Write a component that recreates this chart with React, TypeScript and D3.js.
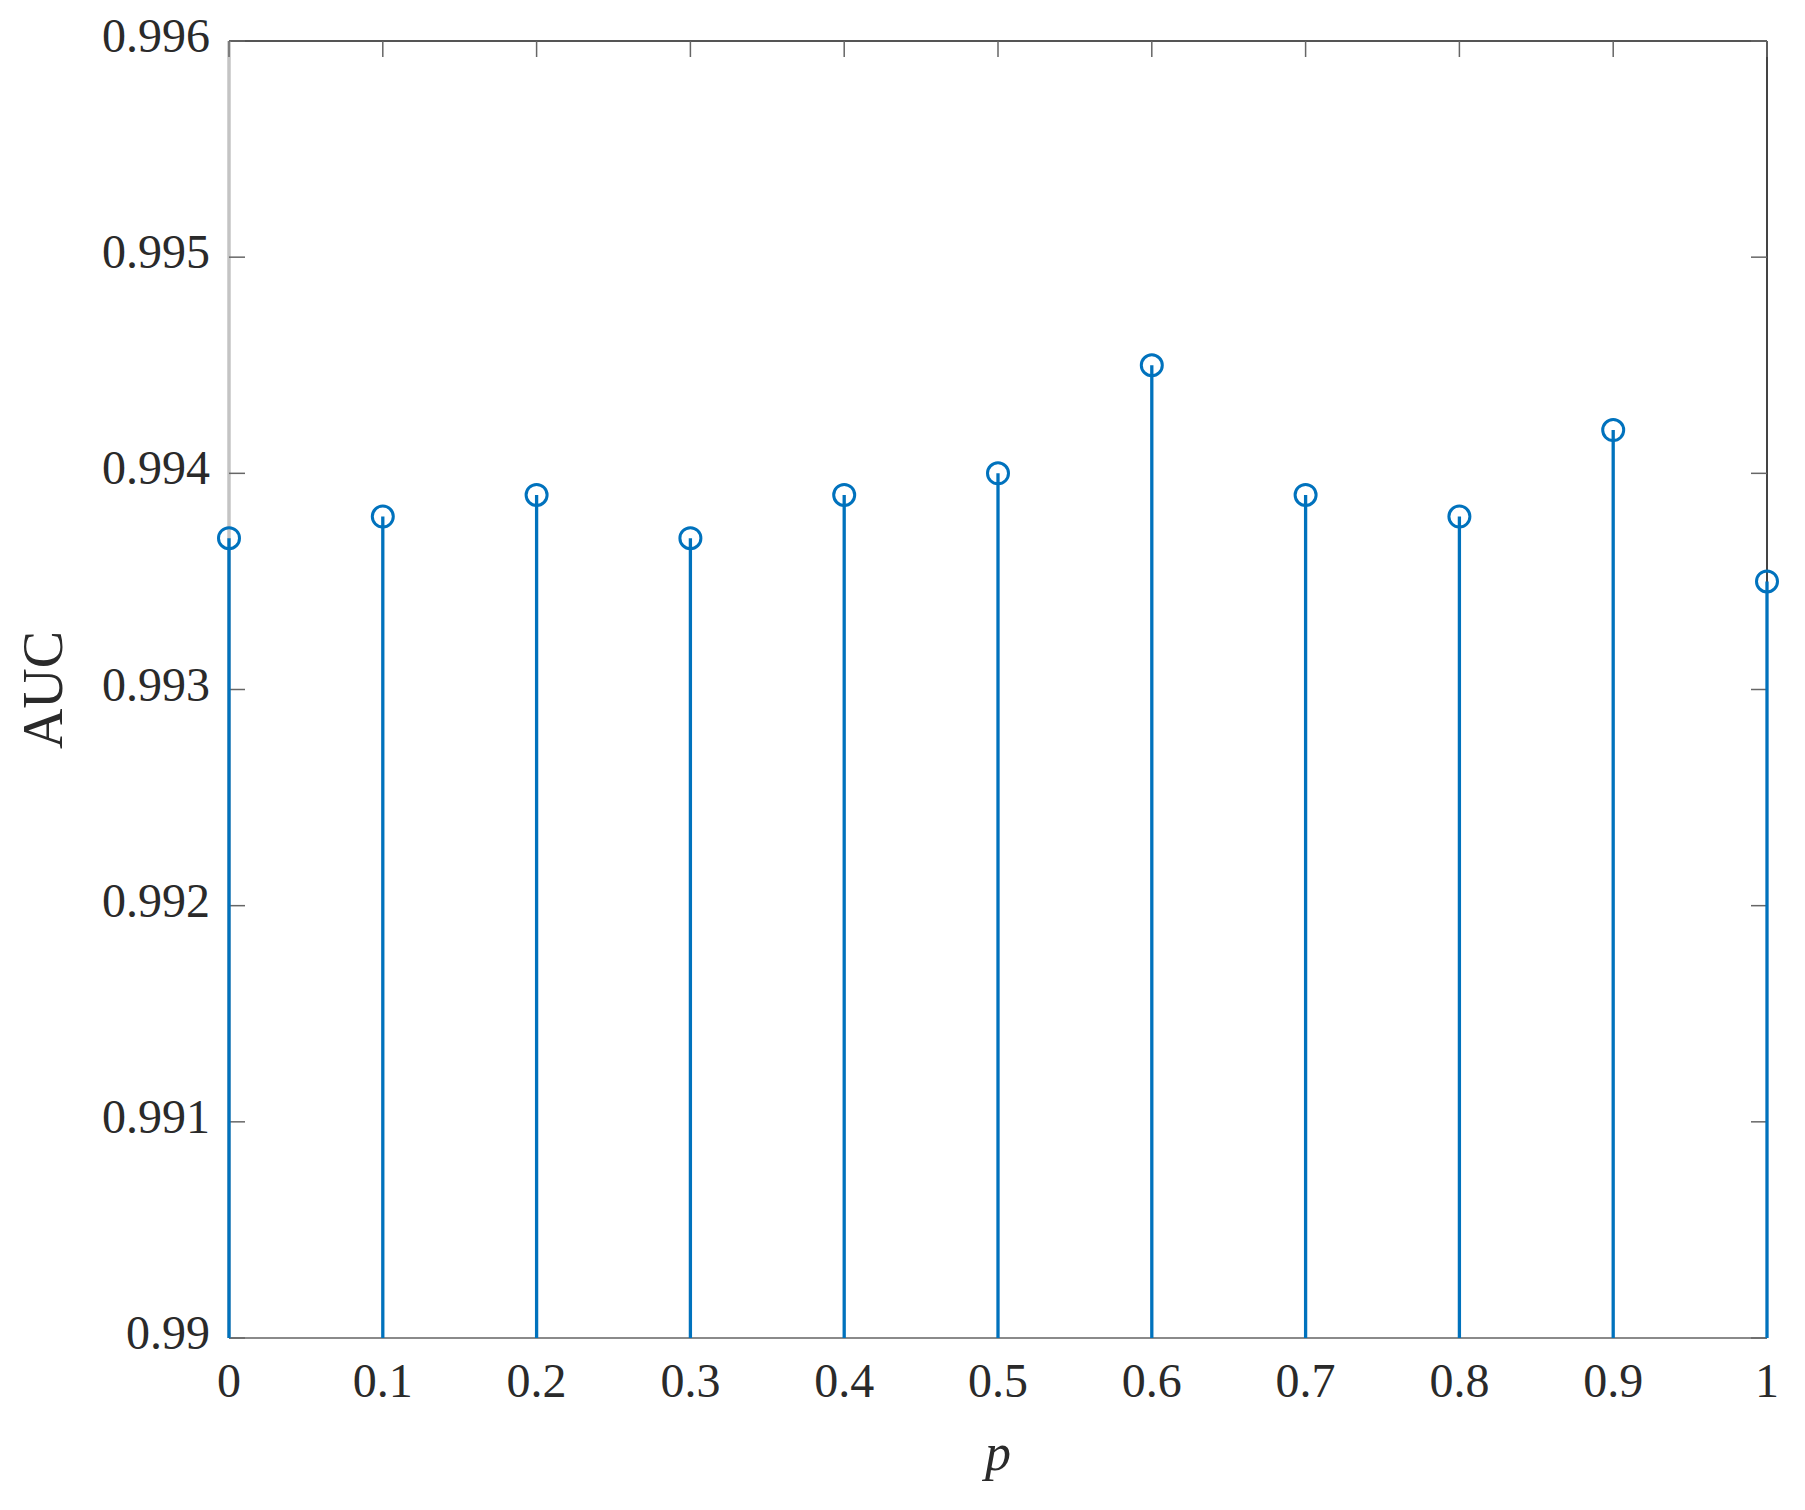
import React from "react";
import * as d3 from "d3";

const pValues = [0, 0.1, 0.2, 0.3, 0.4, 0.5, 0.6, 0.7, 0.8, 0.9, 1];
const aucValues = [0.9937, 0.9938, 0.9939, 0.9937, 0.9939, 0.994, 0.9945, 0.9939, 0.9938, 0.9942, 0.9935];
const xTicks = [0, 0.1, 0.2, 0.3, 0.4, 0.5, 0.6, 0.7, 0.8, 0.9, 1];
const xTickLabels = ["0", "0.1", "0.2", "0.3", "0.4", "0.5", "0.6", "0.7", "0.8", "0.9", "1"];
const yTicks = [0.99, 0.991, 0.992, 0.993, 0.994, 0.995, 0.996];
const yTickLabels = ["0.99", "0.991", "0.992", "0.993", "0.994", "0.995", "0.996"];

const W = 1805;
const H = 1510;
const L = 229, R = 1767, T = 41, B = 1338;
const BLUE = "#0072BD";
const FONT = "'Liberation Serif', 'Times New Roman', serif";

export default function App() {
  const x = d3.scaleLinear().domain([0, 1]).range([L, R]);
  const y = d3.scaleLinear().domain([0.99, 0.996]).range([B, T]);
  const tickLen = 16;
  return (
    <svg width={W} height={H} style={{ position: "absolute", left: 0, top: 0, background: "#fff" }}>
      <rect x={0} y={0} width={W} height={H} fill="#fff" />
      {/* box */}
      <line x1={L} y1={T} x2={R} y2={T} stroke="#555" strokeWidth={2} />
      <line x1={R} y1={T} x2={R} y2={B} stroke="#444" strokeWidth={2} />
      <line x1={L} y1={B} x2={R} y2={B} stroke="#8a8a8a" strokeWidth={2} />
      <line x1={L} y1={T} x2={L} y2={B} stroke="#c4c4c4" strokeWidth={3.5} />
      {/* y ticks */}
      {yTicks.map((t, i) => (
        <g key={"y" + i}>
          <line x1={L} x2={L + tickLen} y1={y(t)} y2={y(t)} stroke="#666" strokeWidth={1.5} />
          <line x1={R} x2={R - tickLen} y1={y(t)} y2={y(t)} stroke="#666" strokeWidth={1.5} />
          <text x={L - 19} y={y(t) + 11} textAnchor="end" fontFamily={FONT} fontSize={48} fill="#2a2a2a">
            {yTickLabels[i]}
          </text>
        </g>
      ))}
      {/* x ticks */}
      {xTicks.map((t, i) => (
        <g key={"x" + i}>
          <line x1={x(t)} x2={x(t)} y1={T} y2={T + tickLen} stroke="#666" strokeWidth={1.5} />
          <line x1={x(t)} x2={x(t)} y1={B} y2={B - tickLen} stroke="#333" strokeWidth={1.5} />
          <text x={x(t)} y={1397} textAnchor="middle" fontFamily={FONT} fontSize={48} fill="#2a2a2a">
            {xTickLabels[i]}
          </text>
        </g>
      ))}
      {/* stems */}
      {pValues.map((p, i) => (
        <g key={"s" + i}>
          <line x1={x(p)} x2={x(p)} y1={B} y2={y(aucValues[i])} stroke={BLUE} strokeWidth={3.3} />
          <circle cx={x(p)} cy={y(aucValues[i])} r={10.5} fill="none" stroke={BLUE} strokeWidth={3} />
        </g>
      ))}
      {/* axis labels */}
      <text x={998} y={1470} textAnchor="middle" fontFamily={FONT} fontStyle="italic" fontSize={52} fill="#2a2a2a">
        p
      </text>
      <text
        transform={`translate(62,690) rotate(-90)`}
        textAnchor="middle"
        fontFamily={FONT}
        fontSize={56}
        fill="#2a2a2a"
      >
        AUC
      </text>
    </svg>
  );
}
